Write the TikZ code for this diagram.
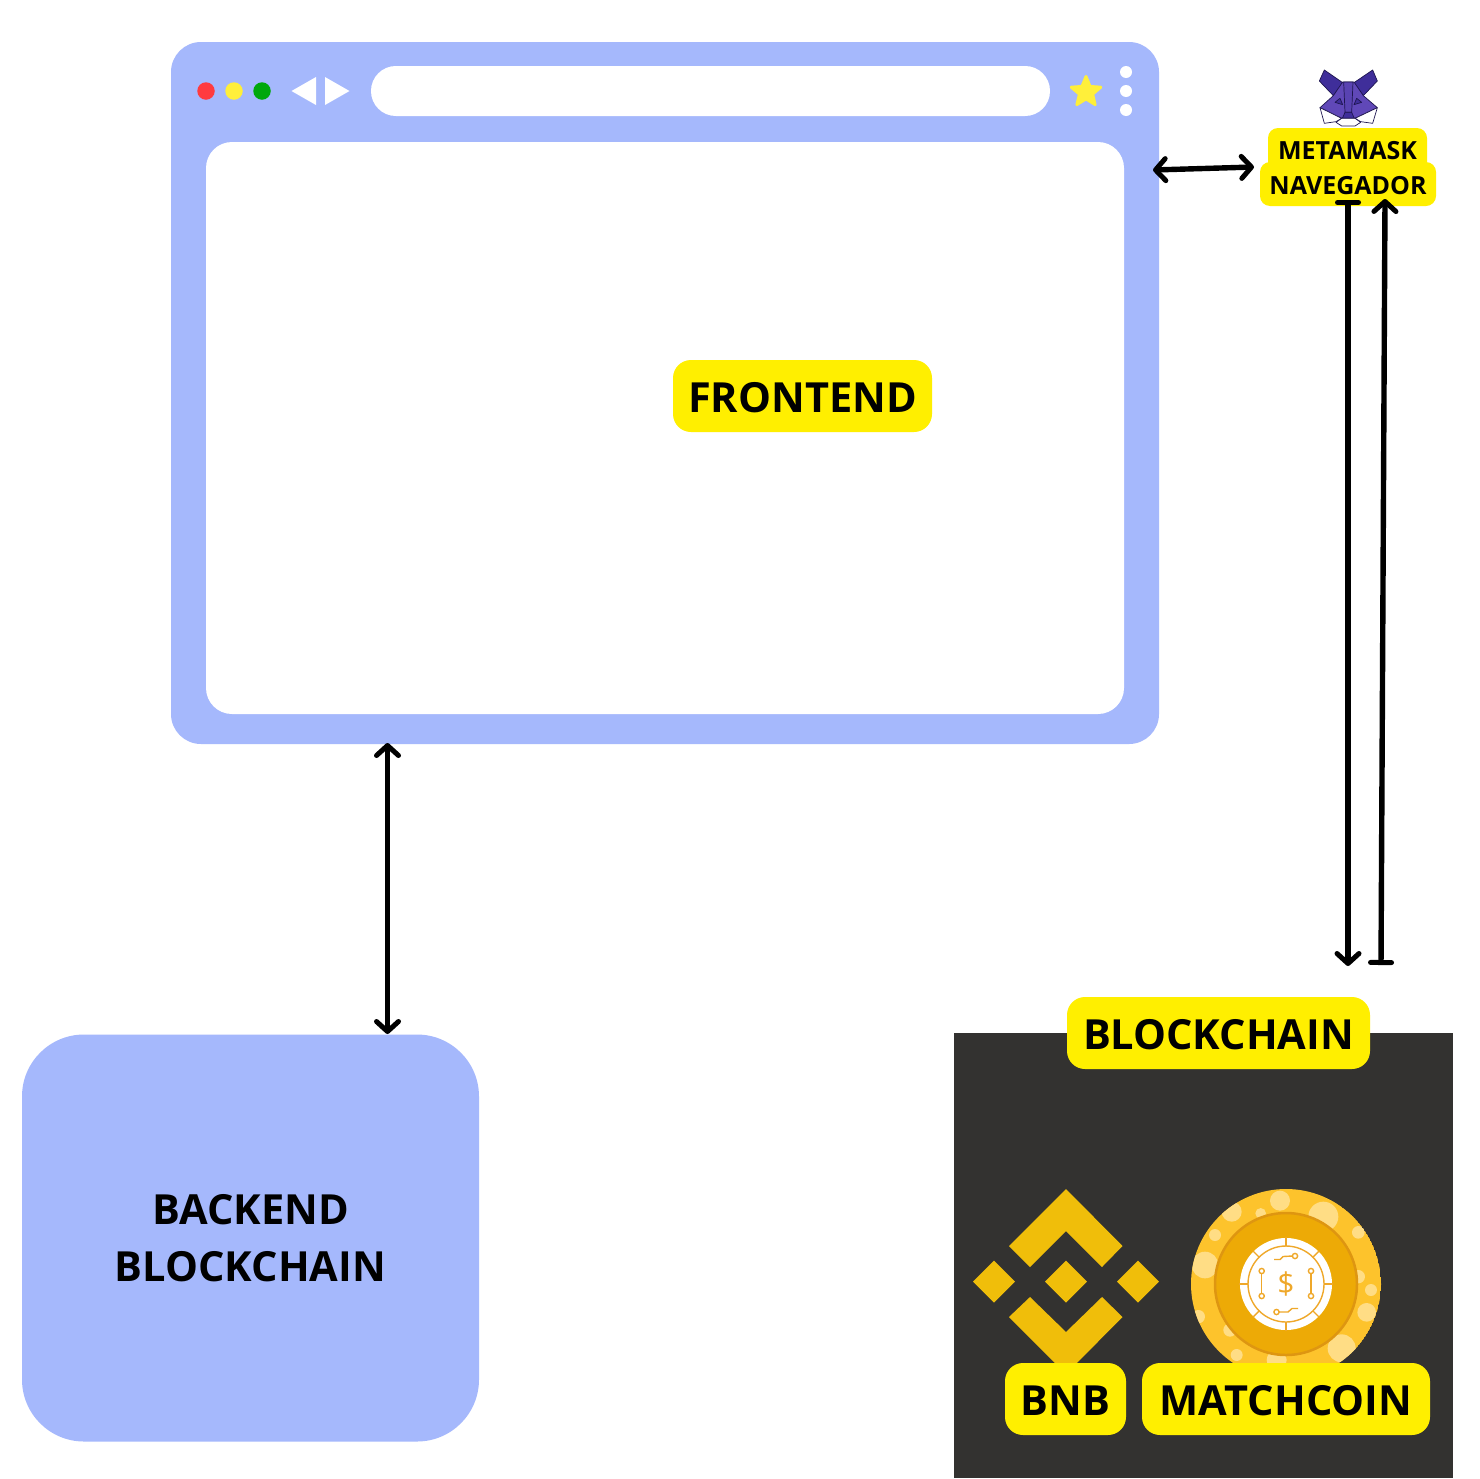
\documentclass[tikz,border=0pt]{standalone}
\usepackage{fontspec}
\setmainfont{Open Sans}
\usetikzlibrary{arrows.meta,shapes.geometric}
\definecolor{panel}{HTML}{A5B8FC}
\definecolor{tag}{HTML}{FFEF00}
\definecolor{dark}{HTML}{333230}
\definecolor{bnb}{HTML}{F0BE0A}
\definecolor{coin}{HTML}{FDC32C}
\definecolor{spot}{HTML}{FFDD85}
\definecolor{ringc}{HTML}{EDAA06}
\definecolor{ringe}{HTML}{DE9611}
\definecolor{trace}{HTML}{EFA82A}
\definecolor{foxd}{HTML}{3F2E9A}
\definecolor{foxm}{HTML}{6048B8}
\definecolor{foxl}{HTML}{1E1650}
\definecolor{dotred}{HTML}{FF3B3F}
\definecolor{dotyellow}{HTML}{FFEF3A}
\definecolor{dotgreen}{HTML}{00A80C}
\tikzset{
  x=1pt,y=-1pt,
  box/.style={rectangle,fill=#1,inner sep=0pt},
  tagbox/.style={rectangle,fill=tag,rounded corners=18pt,inner sep=0pt,text=black,font=\fontsize{41.5}{48}\bfseries\selectfont,text height=32pt,text depth=0pt},
  smalltag/.style={rectangle,fill=tag,rounded corners=10pt,inner sep=0pt,text=black,font=\fontsize{25}{30}\bfseries\selectfont,text height=18pt,text depth=0pt},
  dot/.style={circle,fill=#1,inner sep=0pt,minimum size=17.5pt},
  menudot/.style={circle,fill=white,inner sep=0pt,minimum size=12pt},
  link/.style={line width=5.4pt,black,line cap=round},
  thinlink/.style={line width=5.4pt,black,line cap=round},
  vee/.tip={Straight Barb[length=10pt,width=22pt,line width=5pt,round]},
  tee/.tip={Bar[width=21pt,line width=5pt,round]},
  foxline/.style={draw=foxl,line width=.7pt,line join=round},
  traceline/.style={draw=trace,line width=1.4pt},
}
\begin{document}
\begin{tikzpicture}
\useasboundingbox (0,0) rectangle (1480,1478);
\fill[white] (0,0) rectangle (1480,1478);
% browser window
\node[box=panel,rounded corners=30pt,minimum width=988pt,minimum height=702pt] (window) at (665,393) {};
\node[box=white,rounded corners=26pt,minimum width=918pt,minimum height=572pt] (page) at (665,428) {};
\node[dot=dotred] (d1) at (206,91) {};
\node[dot=dotyellow] (d2) at (234,91) {};
\node[dot=dotgreen] (d3) at (262,91) {};
\fill[white] (291.5,91) -- (316,77) -- (316,105) -- cycle;
\fill[white] (349.5,91) -- (325,77) -- (325,105) -- cycle;
\node[box=white,rounded corners=24.9pt,minimum width=679pt,minimum height=50pt] (url) at (710.5,91) {};
\node[star,star points=5,star point ratio=2.25,fill=dotyellow,draw=dotyellow,line width=3pt,line join=round,inner sep=0pt,minimum size=31pt] (favstar) at (1086,92) {};
\node[menudot] (m1) at (1126,72) {};
\node[menudot] (m2) at (1126,91) {};
\node[menudot] (m3) at (1126,110) {};
\node[tagbox,minimum width=259pt,minimum height=72pt] (frontend) at (802.5,396) {FRONTEND};
% metamask fox
\begin{scope}[shift={(1300,60)},x=.3333pt,y=-.3333pt]
  \draw[foxline,fill=foxd] (73,30) -- (58,63) -- (100,107) -- (128,68) -- cycle;
  \draw[foxline,fill=foxd] (218,30) -- (232,63) -- (190,107) -- (162,68) -- cycle;
  \draw[foxline,fill=foxm] (128,66) -- (162,66) -- (190,107) -- (232,143) -- (165,175) -- (125,175) -- (60,143) -- (100,107) -- cycle;
  \draw[foxline,fill=foxm!80!foxd] (131,66) -- (159,66) -- (155,157) -- (135,157) -- cycle;
  \draw[foxline,fill=foxd] (135,157) -- (155,157) -- (163,175) -- (127,175) -- cycle;
  \draw[foxline,fill=foxd] (105,127) -- (120,115) -- (128,134) -- cycle;
  \draw[foxline,fill=foxd] (185,127) -- (170,115) -- (162,134) -- cycle;
  \draw[foxline,fill=white] (60,143) -- (73,190) -- (108,185) -- (125,175) -- cycle;
  \draw[foxline,fill=white] (232,143) -- (218,190) -- (182,185) -- (165,175) -- cycle;
  \draw[foxline,fill=white] (125,175) -- (165,175) -- (182,187) -- (165,198) -- (125,198) -- (108,187) -- cycle;
\end{scope}
\node[smalltag,minimum width=159pt,minimum height=44pt] (metamask) at (1347.5,150) {METAMASK};
\node[smalltag,minimum width=176pt,minimum height=44pt,text height=20pt] (navegador) at (1348,184) {NAVEGADOR};
% backend
\node[box=panel,rounded corners=62pt,minimum width=457pt,minimum height=407pt,align=center,text=black,font=\fontsize{41.5}{57}\bfseries\selectfont] (backend) at (250.5,1238) {BACKEND\\BLOCKCHAIN};
% blockchain panel
\node[box=dark,minimum width=499pt,minimum height=445pt] (chain) at (1203.5,1255.5) {};
% bnb logo
\fill[bnb] (1066,1189) -- (1122.5,1246) -- (1102,1267) -- (1066,1231) -- (1030,1267) -- (1009,1246) -- cycle;
\fill[bnb] (1066,1374) -- (1122.5,1317) -- (1102,1297) -- (1066,1332) -- (1030,1297) -- (1009,1317) -- cycle;
\fill[bnb] (1066,1260.5) -- (1087,1281.5) -- (1066,1302.5) -- (1045,1281.5) -- cycle;
\fill[bnb] (994,1260.5) -- (1015,1281.5) -- (994,1302.5) -- (973,1281.5) -- cycle;
\fill[bnb] (1138,1260.5) -- (1159,1281.5) -- (1138,1302.5) -- (1117,1281.5) -- cycle;
% coin
\begin{scope}
  \clip (1286,1284) circle[radius=95];
  \fill[coin] (1286,1284) circle[radius=95];
  \begin{scope}[shift={(1180,1180)},x=.3333pt,y=-.3333pt]
    \foreach \a/\b/\r in {300/62/30,430/110/45,155/95/30,242/100/16,105/165/18,535/157/19,75/255/40,573/330/18,560/397/28,485/505/42,170/525/18,55/410/20,150/450/20,535/290/20,290/540/30}
      \fill[spot] (\a,\b) circle[radius=\r];
  \end{scope}
\end{scope}
\fill[ringc,draw=ringe,line width=2.5pt] (1286,1284) circle[radius=71];
\fill[white] (1286,1284) circle[radius=46];
\draw[traceline] (1286,1284) circle[radius=38];
\foreach \t in {0,45,...,315}
  \draw[traceline] (1286,1284) ++(\t:38) -- ++(\t:9);
\draw[traceline] (1261.7,1272) -- (1261.7,1295);
\draw[traceline] (1311,1272) -- (1311,1295);
\foreach \p in {(1261.7,1271),(1261.7,1296),(1311,1271),(1311,1296),(1295,1256),(1276.5,1312)}
  \draw[traceline,fill=white] \p circle[radius=2.6];
\draw[traceline] (1292.4,1256) -- (1283,1256.5) -- (1280,1259.5) -- (1274,1259.5);
\draw[traceline] (1279,1312) -- (1288,1312) -- (1292,1308.5) -- (1298,1308.5);
\node[text=trace,inner sep=0pt,font=\fontsize{30}{30}\selectfont] (dollar) at (1286,1284) {\$};
% tags in panel
\node[tagbox,minimum width=303pt,minimum height=72pt] (blockchain) at (1218.5,1033) {BLOCKCHAIN};
\node[tagbox,minimum width=121pt,minimum height=72pt] (bnbtag) at (1065.5,1399) {BNB};
\node[tagbox,minimum width=288pt,minimum height=72pt] (matchtag) at (1286,1399) {MATCHCOIN};
% connector ends
\coordinate (winright) at (1153,170);
\coordinate (navleft) at (1254,167);
\coordinate (navbotA) at (1348,200);
\coordinate (chaintopA) at (1348,966);
\coordinate (chaintopB) at (1381,965);
\coordinate (navbotB) at (1385,199);
\coordinate (winbot) at (387.5,743);
\coordinate (backtop) at (387.5,1034);
% connectors
\draw[link,{vee}-{vee}] (winright) -- (navleft);
\draw[link,{tee}-{vee}] (navbotA) -- (chaintopA);
\draw[link,{tee}-{vee}] (chaintopB) -- (navbotB);
\draw[thinlink,{vee}-{vee}] (winbot) -- (backtop);
\end{tikzpicture}
\end{document}
